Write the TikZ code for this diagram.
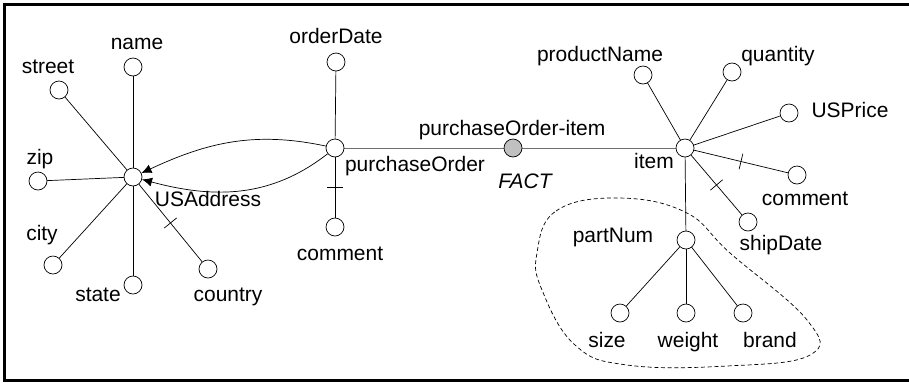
\documentclass[tikz,border=0pt]{standalone}
\usepackage{fontspec}
\setmainfont{Liberation Sans}
\usetikzlibrary{positioning,calc,arrows.meta,decorations.markings}

\definecolor{factgray}{RGB}{192,192,192}
\definecolor{linkgray}{RGB}{112,112,112}

\begin{document}
\begin{tikzpicture}[x=0.03cm, y=-0.03cm,
	attr/.style={circle, draw, fill=white, minimum size=0.54cm, inner sep=0pt, line width=0.6pt},
	lbl/.style={anchor=base, inner sep=0pt, font=\fontsize{17.9}{20}\selectfont},
	edge/.style={line width=0.6pt},
	cardtick/.style={postaction={decorate}, decoration={markings, mark=at position 0.5 with {\draw [line width=0.6pt] (0,-8) -- (0,8);}}},
	arr/.style={line width=0.6pt, -{Latex[length=0.3cm, width=0.27cm]}},
	blob/.style={line width=0.6pt, dash pattern=on 0.12cm off 0.08cm}]

	\useasboundingbox (0,0) rectangle (909,382);
	\clip (0,0) rectangle (909,382);
	\draw [line width=0.09cm] (4,4) rectangle (920,380);

	% dashed group round partNum
	\draw [blob] plot [smooth cycle, tension=0.7] coordinates {(537,253) (556,211) (617,198) (685,212) (730,253) (807,320) (810,355) (727,366) (627,365) (575,345) (542,290)};

	% links, drawn first so the circles cover them
	\coordinate (usac) at (133,177);
	\coordinate (poc)  at (335,148);
	\coordinate (itc)  at (685,148);

	\draw [linkgray, line width=0.8pt] (poc) -- (itc);

	\draw [edge] (usac) -- (133,67);
	\draw [edge] (usac) -- (59,90);
	\draw [edge] (usac) -- (38,181);
	\draw [edge] (usac) -- (53,265);
	\draw [edge] (usac) -- (133,285);
	\draw [edge] (poc) -- (336,62);
	\draw [edge] (itc) -- (643,75);
	\draw [edge] (itc) -- (732,72);
	\draw [edge] (itc) -- (789,113);
	\draw [edge] (itc) -- (686,240);
	\draw [edge] (686,240) -- (620,313);
	\draw [edge] (686,240) -- (686,313);
	\draw [edge] (686,240) -- (743,313);

	% USAddress
	\node [attr] (usa)     at (usac)     {};
	\node [attr] (name)    at (133,67)   {};
	\node [attr] (street)  at (59,90)    {};
	\node [attr] (zip)     at (38,181)   {};
	\node [attr] (city)    at (53,265)   {};
	\node [attr] (state)   at (133,285)  {};
	\node [attr] (country) at (208,269)  {};

	% purchaseOrder
	\node [attr] (po)        at (poc)     {};
	\node [attr] (orderdate) at (336,62)  {};
	\node [attr] (pocomment) at (335,227) {};
	\node [attr, fill=factgray] (fact) at (513,148) {};

	% item
	\node [attr] (item)      at (itc)     {};
	\node [attr] (prodname)  at (643,75)  {};
	\node [attr] (quantity)  at (732,72)  {};
	\node [attr] (usprice)   at (789,113) {};
	\node [attr] (itcomment) at (797,175) {};
	\node [attr] (shipdate)  at (748,222) {};
	\node [attr] (partnum)   at (686,240) {};
	\node [attr] (size)      at (620,313) {};
	\node [attr] (weight)    at (686,313) {};
	\node [attr] (brand)     at (743,313) {};

	% labels
	\node [lbl] (lname)      at (137,49)  {name};
	\node [lbl] (lstreet)    at (48,73)   {street};
	\node [lbl] (lzip)       at (40,164)  {zip};
	\node [lbl] (lcity)      at (42,240)  {city};
	\node [lbl] (lstate)     at (98,301)  {state};
	\node [lbl] (lcountry)   at (228,301) {country};
	\node [lbl] (lusa)       at (208,206) {USAddress};

	\node [lbl] (lorderdate) at (336,43)  {orderDate};
	\node [lbl] (lpo)        at (415,171) {purchaseOrder};
	\node [lbl] (lpocomment) at (340,260) {comment};
	\node [lbl] (lpoitem)    at (512,135) {purchaseOrder-item};
	\node [lbl] (lfact)      at (525,188) {\itshape FACT};

	\node [lbl] (lprodname)  at (600,61)  {productName};
	\node [lbl] (lquantity)  at (778,61)  {quantity};
	\node [lbl] (lusprice)   at (850,117) {USPrice};
	\node [lbl] (litem)      at (654,168) {item};
	\node [lbl] (litcomment) at (805,205) {comment};
	\node [lbl] (lshipdate)  at (781,250) {shipDate};
	\node [lbl] (lpartnum)   at (613,242) {partNum};
	\node [lbl] (lsize)      at (607,347) {size};
	\node [lbl] (lweight)    at (688,347) {weight};
	\node [lbl] (lbrand)     at (770,347) {brand};

	% optional attributes
	\draw [edge, cardtick] (usa) to (country);
	\draw [edge, cardtick] (po) to (pocomment);
	\draw [edge, cardtick] (item) to (itcomment);
	\draw [edge, cardtick] (item) to (shipdate);

	% references to USAddress
	\draw [arr] (po) to[out=168, in=25] (usa);
	\draw [arr] (po) to[out=218, in=-15] (usa);
\end{tikzpicture}
\end{document}
